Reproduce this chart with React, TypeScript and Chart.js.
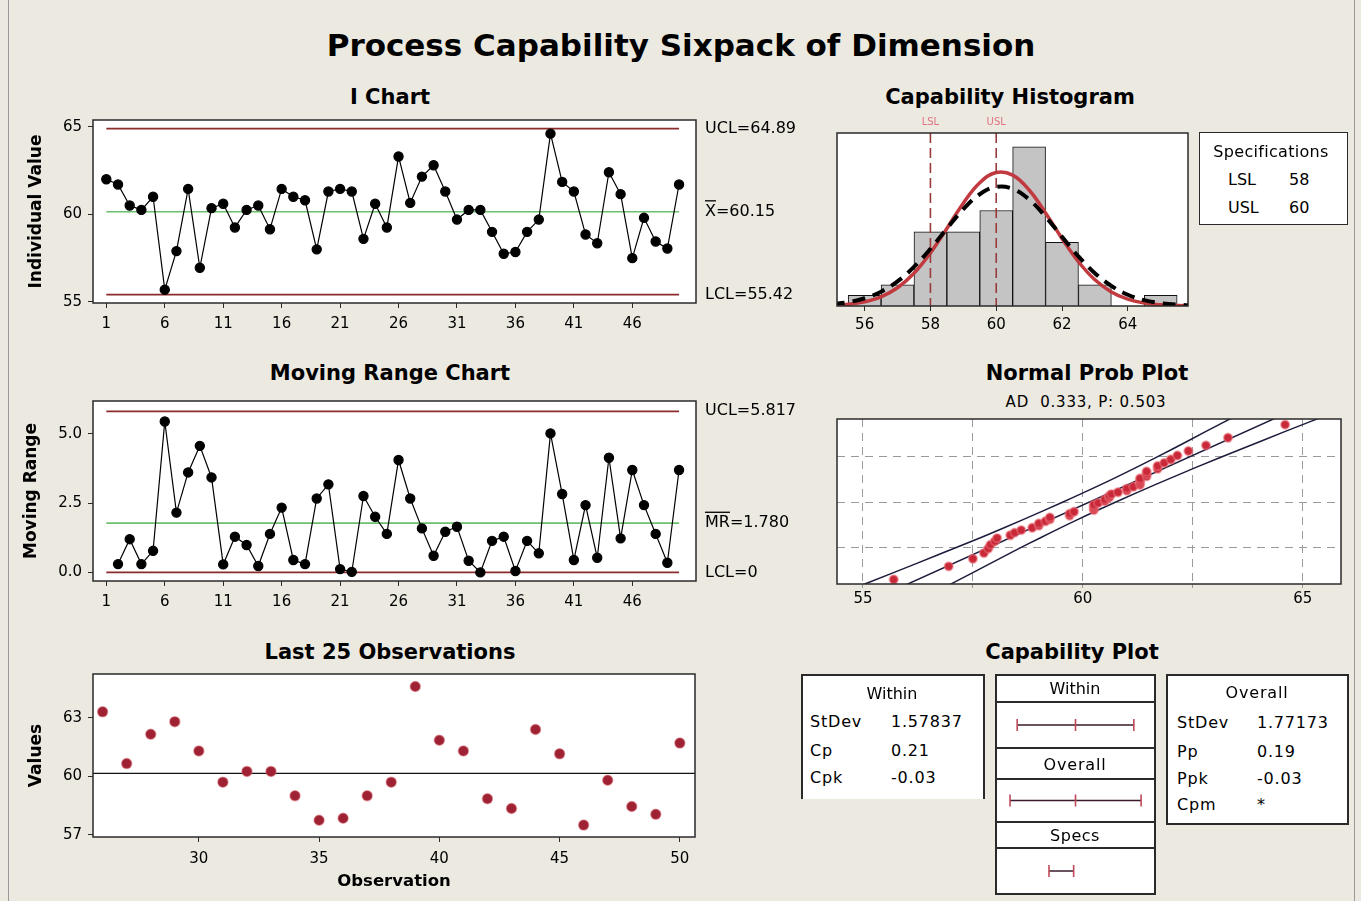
import React, { useEffect, useRef } from "react";
import { Chart, registerables } from "chart.js";

Chart.register(...registerables);
Chart.defaults.font.family = '"DejaVu Sans", sans-serif';
Chart.defaults.color = "#000";

// ---------------- data ----------------
const iValues = [
  62.0, 61.7, 60.5, 60.25, 61.0, 55.7, 57.9, 61.45, 56.95, 60.35,
  60.6, 59.25, 60.25, 60.5, 59.15, 61.45, 61.0, 60.8, 58.0, 61.3,
  61.45, 61.3, 58.6, 60.6, 59.25, 63.3, 60.65, 62.15, 62.8, 61.3,
  59.7, 60.25, 60.25, 59.0, 57.75, 57.85, 59.0, 59.7, 64.6, 61.85,
  61.3, 58.85, 58.35, 62.4, 61.15, 57.5, 59.8, 58.45, 58.05, 61.7,
];
const iUCL = 64.89;
const iCL = 60.15;
const iLCL = 55.42;
const iXTicks = [1, 6, 11, 16, 21, 26, 31, 36, 41, 46];
const iYTicks = [55, 60, 65];

// moving ranges for observations 2..50
const mrValues = [
  0.3, 1.2, 0.3, 0.78, 5.45, 2.16, 3.61, 4.57, 3.43, 0.29,
  1.29, 0.99, 0.23, 1.39, 2.34, 0.45, 0.3, 2.67, 3.18, 0.12,
  0.02, 2.76, 2.01, 1.39, 4.06, 2.67, 1.59, 0.6, 1.47, 1.65,
  0.42, 0.0, 1.14, 1.29, 0.05, 1.14, 0.69, 5.02, 2.83, 0.45,
  2.43, 0.53, 4.14, 1.23, 3.7, 2.43, 1.39, 0.35, 3.7,
];
const mrUCL = 5.817;
const mrCL = 1.78;
const mrLCL = 0;
const mrYTicks = [0, 2.5, 5];

const last25First = 26;
const last25XTicks = [30, 35, 40, 45, 50];
const last25YTicks = [57, 60, 63];

const histBins = [56, 57, 58, 59, 60, 61, 62, 63, 64, 65];
const histCounts = [1, 2, 7, 7, 9, 15, 6, 2, 0, 1];
const histXTicks = [56, 58, 60, 62, 64];
const lsl = 58;
const usl = 60;
const curveX = [55, 55.5, 56, 56.5, 57, 57.5, 58, 58.5, 59, 59.5, 60, 60.5, 61, 61.5, 62, 62.5, 63, 63.5, 64, 64.5, 65, 65.5, 66];
const withinCurve = [0.06, 0.16, 0.4, 0.87, 1.72, 3.08, 5.0, 7.31, 9.69, 11.61, 12.58, 12.33, 10.93, 8.77, 6.36, 4.17, 2.47, 1.33, 0.64, 0.28, 0.11, 0.04, 0.01];
const overallCurve = [0.17, 0.36, 0.73, 1.35, 2.32, 3.68, 5.39, 7.3, 9.12, 10.53, 11.22, 11.04, 10.04, 8.42, 6.53, 4.67, 3.09, 1.89, 1.06, 0.55, 0.27, 0.12, 0.05];

// normal scores (median ranks) for the 50 ordered observations
const probZ = [
  -2.2, -1.828, -1.611, -1.451, -1.321, -1.21, -1.113, -1.025, -0.944, -0.869,
  -0.799, -0.732, -0.668, -0.607, -0.548, -0.491, -0.436, -0.382, -0.329, -0.277,
  -0.226, -0.175, -0.125, -0.075, -0.025, 0.025, 0.075, 0.125, 0.175, 0.226,
  0.277, 0.329, 0.382, 0.436, 0.491, 0.548, 0.607, 0.668, 0.732, 0.799,
  0.869, 0.944, 1.025, 1.113, 1.21, 1.321, 1.451, 1.611, 1.828, 2.2,
];
const probGridZ = [-1.2816, 0, 1.2816];
const probXTicks = [55, 57.5, 60, 62.5, 65];
const fitZ = [-2.6, 2.6];
const fitX = [55.54, 64.76];
const bandZ = [-2.6, -2, -1.5, -1, -0.5, 0, 0.5, 1, 1.5, 2, 2.6];
const lowerBandX = [54.49, 55.71, 56.71, 57.7, 58.64, 59.55, 60.42, 61.24, 62.03, 62.79, 63.71];
const upperBandX = [56.59, 57.51, 58.27, 59.06, 59.88, 60.75, 61.66, 62.6, 63.59, 64.59, 65.81];

const withinSpread = [55.42, 60.15, 64.88];
const overallSpread = [54.84, 60.15, 65.47];
const specSpread = [58, 60];

const withinStats = [["StDev", "1.57837"], ["Cp", "0.21"], ["Cpk", "-0.03"]];
const overallStats = [["StDev", "1.77173"], ["Pp", "0.19"], ["Ppk", "-0.03"], ["Cpm", "*"]];

// ---------------- styles ----------------
const BG = "#ECE9E0";
const LIMIT_RED = "#8B2B2B";
const CL_GREEN = "#6DBE6D";
const FONT = '"DejaVu Sans", sans-serif';
const TICK_FONT = { size: 15 };

const framePlugin = {
  id: "frame",
  beforeDraw(chart: any) {
    const { ctx, chartArea: a } = chart;
    ctx.save();
    ctx.fillStyle = "#fff";
    ctx.fillRect(a.left, a.top, a.right - a.left, a.bottom - a.top);
    ctx.restore();
  },
  afterDraw(chart: any) {
    const { ctx, chartArea: a } = chart;
    ctx.save();
    ctx.strokeStyle = "#2a2a2a";
    ctx.lineWidth = 1.5;
    ctx.strokeRect(a.left, a.top, a.right - a.left, a.bottom - a.top);
    ctx.restore();
  },
};

function limitLabels(items: { value: number; text: string; bar?: string }[]) {
  return {
    id: "limitLabels",
    afterDraw(chart: any) {
      const { ctx, chartArea } = chart;
      const y = chart.scales.y;
      ctx.save();
      ctx.font = `16px ${FONT}`;
      ctx.fillStyle = "#000";
      ctx.textBaseline = "middle";
      ctx.textAlign = "left";
      items.forEach((it) => {
        const py = y.getPixelForValue(it.value);
        const px = chartArea.right + 9;
        ctx.fillText(it.text, px, py);
        if (it.bar) {
          const w = ctx.measureText(it.bar).width;
          ctx.fillRect(px, py - 11.5, w, 1.3);
        }
      });
      ctx.restore();
    },
  };
}

const specLinesPlugin = {
  id: "specLines",
  afterDatasetsDraw(chart: any) {
    const { ctx, chartArea: a } = chart;
    const x = chart.scales.x;
    ctx.save();
    [
      [lsl, "LSL"],
      [usl, "USL"],
    ].forEach(([v, label]) => {
      const px = x.getPixelForValue(v as number);
      ctx.strokeStyle = "#9A3A3A";
      ctx.lineWidth = 1.6;
      ctx.setLineDash([10, 5]);
      ctx.beginPath();
      ctx.moveTo(px, a.top);
      ctx.lineTo(px, a.bottom);
      ctx.stroke();
      ctx.setLineDash([]);
      ctx.fillStyle = "#E07480";
      ctx.font = `10px ${FONT}`;
      ctx.textAlign = "center";
      ctx.textBaseline = "middle";
      ctx.fillText(label as string, px, a.top - 11);
    });
    ctx.restore();
  },
};

// fix an axis box size and drop the label overhang padding so the plot area is exact
function fixSize(dim: "width" | "height", size: number) {
  return (s: any) => {
    s[dim] = size;
    s.paddingTop = 0;
    s.paddingBottom = 0;
    s.paddingLeft = 0;
    s.paddingRight = 0;
  };
}

function linAxis(min: number, max: number, ticks: number[], fit: (s: any) => void, extra: any = {}) {
  return {
    type: "linear",
    min,
    max,
    offset: false,
    afterBuildTicks: (s: any) => {
      s.ticks = ticks.map((v) => ({ value: v }));
    },
    afterFit: fit,
    grid: { drawOnChartArea: false, drawTicks: true, tickLength: 5, color: "#2a2a2a", offset: false },
    border: { display: false },
    ticks: { font: TICK_FONT, padding: 6, maxRotation: 0, autoSkip: false, color: "#000" },
    ...extra,
  };
}

const hline = (y: number, x0: number, x1: number) => [
  { x: x0, y },
  { x: x1, y },
];

const baseOpts = {
  animation: false,
  responsive: false,
  events: [],
  plugins: { legend: { display: false }, tooltip: { enabled: false } },
};

const yTitle = (text: string, top: number) => ({
  display: true,
  text,
  font: { size: 17, weight: "bold" },
  padding: { top, bottom: 0 },
  color: "#000",
});

const xTickOpts = (padding: number) => ({ font: TICK_FONT, padding, maxRotation: 0, autoSkip: false, color: "#000" });

// ---------------- chart configs ----------------
function iChartConfig() {
  return {
    type: "line",
    data: {
      datasets: [
        {
          data: iValues.map((v, i) => ({ x: i + 1, y: v })),
          borderColor: "#000",
          borderWidth: 1.2,
          pointRadius: 4.6,
          pointBackgroundColor: "#000",
          pointBorderColor: "#000",
        },
        { data: hline(iUCL, 1, 50), borderColor: LIMIT_RED, borderWidth: 1.6, pointRadius: 0 },
        { data: hline(iCL, 1, 50), borderColor: CL_GREEN, borderWidth: 1.6, pointRadius: 0 },
        { data: hline(iLCL, 1, 50), borderColor: LIMIT_RED, borderWidth: 1.6, pointRadius: 0 },
      ],
    },
    options: {
      ...baseOpts,
      layout: { padding: { top: 10, right: 114, left: 0, bottom: 0 } },
      scales: {
        x: linAxis(-0.14, 51.45, iXTicks, fixSize("height", 39), { ticks: xTickOpts(7) }),
        y: linAxis(54.94, 65.38, iYTicks, fixSize("width", 83), {
          title: yTitle("Individual Value", 16),
        }),
      },
    },
    plugins: [
      framePlugin,
      limitLabels([
        { value: iUCL, text: "UCL=64.89" },
        { value: iCL, text: "X=60.15", bar: "X" },
        { value: iLCL, text: "LCL=55.42" },
      ]),
    ],
  };
}

function mrChartConfig() {
  return {
    type: "line",
    data: {
      datasets: [
        {
          data: mrValues.map((v, i) => ({ x: i + 2, y: v })),
          borderColor: "#000",
          borderWidth: 1.2,
          pointRadius: 4.6,
          pointBackgroundColor: "#000",
          pointBorderColor: "#000",
        },
        { data: hline(mrUCL, 1, 50), borderColor: LIMIT_RED, borderWidth: 1.6, pointRadius: 0 },
        { data: hline(mrCL, 1, 50), borderColor: CL_GREEN, borderWidth: 1.6, pointRadius: 0 },
        { data: hline(mrLCL, 1, 50), borderColor: LIMIT_RED, borderWidth: 1.6, pointRadius: 0 },
      ],
    },
    options: {
      ...baseOpts,
      layout: { padding: { top: 10, right: 114, left: 0, bottom: 0 } },
      scales: {
        x: linAxis(-0.14, 51.45, iXTicks, fixSize("height", 40), { ticks: xTickOpts(7) }),
        y: linAxis(-0.31, 6.19, mrYTicks, fixSize("width", 83), {
          ticks: { font: TICK_FONT, padding: 6, color: "#000", callback: (v: any) => Number(v).toFixed(1) },
          title: yTitle("Moving Range", 11),
        }),
      },
    },
    plugins: [
      framePlugin,
      limitLabels([
        { value: mrUCL, text: "UCL=5.817" },
        { value: mrCL, text: "MR=1.780", bar: "MR" },
        { value: mrLCL, text: "LCL=0" },
      ]),
    ],
  };
}

function last25Config() {
  const pts = iValues.slice(last25First - 1).map((v, i) => ({ x: last25First + i, y: v }));
  return {
    type: "scatter",
    data: {
      datasets: [
        {
          data: pts,
          pointRadius: 5,
          pointBackgroundColor: "#9E2234",
          pointBorderColor: "rgba(200,80,90,0.45)",
          pointBorderWidth: 1.5,
        },
        { data: hline(iCL, 25.6, 50.63), showLine: true, borderColor: "#111", borderWidth: 1.4, pointRadius: 0 },
      ],
    },
    options: {
      ...baseOpts,
      layout: { padding: { top: 10, right: 115, left: 0, bottom: 0 } },
      scales: {
        x: linAxis(25.6, 50.63, last25XTicks, fixSize("height", 64), {
          ticks: xTickOpts(8),
          title: { display: true, text: "Observation", font: { size: 16.5, weight: "bold" }, padding: { top: 0, bottom: 9 }, color: "#000" },
        }),
        y: linAxis(56.89, 65.24, last25YTicks, fixSize("width", 83), {
          title: yTitle("Values", 16),
        }),
      },
    },
    plugins: [framePlugin],
  };
}

function histConfig() {
  return {
    type: "bar",
    data: {
      datasets: [
        {
          type: "line",
          data: curveX.map((x, i) => ({ x, y: overallCurve[i] })),
          borderColor: "#000",
          borderWidth: 4,
          borderDash: [13, 8],
          pointRadius: 0,
          tension: 0.4,
          order: 0,
        },
        {
          type: "line",
          data: curveX.map((x, i) => ({ x, y: withinCurve[i] })),
          borderColor: "#C03A40",
          borderWidth: 3.5,
          pointRadius: 0,
          tension: 0.4,
          order: 1,
        },
        {
          type: "bar",
          data: histBins.map((x, i) => ({ x, y: histCounts[i] })),
          backgroundColor: "#C4C4C4",
          borderColor: "#111",
          borderWidth: 1,
          barPercentage: 1,
          categoryPercentage: 1,
          order: 2,
        },
      ],
    },
    options: {
      ...baseOpts,
      layout: { padding: { top: 23, right: 12, left: 17, bottom: 0 } },
      scales: {
        x: linAxis(55.16, 65.83, histXTicks, fixSize("height", 36), { ticks: xTickOpts(5) }),
        y: { type: "linear", min: 0, max: 16.3, display: false },
      },
    },
    plugins: [framePlugin, specLinesPlugin],
  };
}

function probConfig() {
  const sorted = iValues.slice().sort((a, b) => a - b);
  const line = (xs: number[], zs: number[]) => xs.map((x, i) => ({ x, y: zs[i] }));
  return {
    type: "scatter",
    data: {
      datasets: [
        {
          data: sorted.map((v, i) => ({ x: v, y: probZ[i] })),
          pointRadius: 4.2,
          pointBackgroundColor: "#C82838",
          pointBorderColor: "rgba(235,110,120,0.5)",
          pointBorderWidth: 2,
        },
        { data: line(fitX, fitZ), showLine: true, borderColor: "#1C1C3C", borderWidth: 1.5, pointRadius: 0 },
        { data: line(lowerBandX, bandZ), showLine: true, borderColor: "#1C1C3C", borderWidth: 1.5, pointRadius: 0, tension: 0.3 },
        { data: line(upperBandX, bandZ), showLine: true, borderColor: "#1C1C3C", borderWidth: 1.5, pointRadius: 0, tension: 0.3 },
      ],
    },
    options: {
      ...baseOpts,
      layout: { padding: { top: 9, right: 19, left: 17, bottom: 0 } },
      scales: {
        x: {
          type: "linear",
          min: 54.41,
          max: 65.87,
          afterBuildTicks: (s: any) => {
            s.ticks = probXTicks.map((v) => ({ value: v }));
          },
          afterFit: fixSize("height", 26),
          grid: { drawOnChartArea: true, drawTicks: true, tickLength: 4, color: "#9A9A9A", lineWidth: 1 },
          border: { display: false, dash: [8, 6] },
          ticks: { font: TICK_FONT, padding: 2, maxRotation: 0, autoSkip: false, color: "#000", callback: (v: any) => (Number(v) % 5 === 0 ? String(v) : "") },
        },
        y: {
          type: "linear",
          min: -2.33,
          max: 2.36,
          afterBuildTicks: (s: any) => {
            s.ticks = probGridZ.map((v) => ({ value: v }));
          },
          afterFit: fixSize("width", 0),
          grid: { drawOnChartArea: true, drawTicks: false, color: "#9A9A9A", lineWidth: 1 },
          border: { display: false, dash: [8, 6] },
          ticks: { display: false },
        },
      },
    },
    plugins: [framePlugin],
  };
}

function spreadConfig(values: number[]) {
  return {
    type: "scatter",
    data: {
      datasets: [
        {
          data: values.map((x) => ({ x, y: 0 })),
          showLine: true,
          borderColor: "#3A1A2A",
          borderWidth: 1.5,
          pointStyle: "line",
          pointRotation: 90,
          pointRadius: 6,
          pointBorderColor: "#C04858",
          pointBorderWidth: 1.6,
        },
      ],
    },
    options: {
      ...baseOpts,
      layout: { padding: 0 },
      scales: {
        x: { type: "linear", min: 54.4, max: 65.9, display: false },
        y: { type: "linear", min: -1, max: 1, display: false },
      },
    },
  };
}

// ---------------- components ----------------
function ChartBox({ left, top, width, height, make }: { left: number; top: number; width: number; height: number; make: () => any }) {
  const ref = useRef<HTMLCanvasElement>(null);
  useEffect(() => {
    const chart = new Chart(ref.current as HTMLCanvasElement, make());
    return () => chart.destroy();
  }, []);
  return (
    <div style={{ position: "absolute", left, top, width, height }}>
      <canvas ref={ref} width={width} height={height} style={{ width, height, display: "block" }} />
    </div>
  );
}

function Txt({ x, y, children, size = 15, bold = false, align = "center", color = "#000", ls = 0 }: any) {
  const lh = Math.round(size * 1.25);
  return (
    <div
      style={{
        position: "absolute",
        left: align === "center" ? x - 400 : x,
        top: y - lh / 2,
        width: align === "center" ? 800 : undefined,
        textAlign: align,
        fontSize: size,
        fontWeight: bold ? "bold" : "normal",
        lineHeight: `${lh}px`,
        whiteSpace: "nowrap",
        color,
        letterSpacing: ls,
      }}
    >
      {children}
    </div>
  );
}

const boxBorder = "2px solid #2a2a2a";

export default function App() {
  const statRowsY1 = [722, 751, 778];
  const statRowsY2 = [723, 752, 779, 805];
  return (
    <div
      style={{
        position: "absolute",
        left: 0,
        top: 0,
        width: 1361,
        height: 901,
        background: BG,
        overflow: "hidden",
        fontFamily: FONT,
        color: "#000",
      }}
    >
      <div style={{ position: "absolute", left: 8, top: -2, width: 1345, height: 910, borderLeft: "1px solid #9a9a9a", borderRight: "1px solid #9a9a9a" }} />

      <Txt x={681} y={45} size={31} bold>
        Process Capability Sixpack of Dimension
      </Txt>

      <Txt x={390} y={97} size={21} bold>I Chart</Txt>
      <Txt x={1010} y={97} size={21} bold>Capability Histogram</Txt>
      <Txt x={390} y={373} size={21} bold>Moving Range Chart</Txt>
      <Txt x={1087} y={373} size={21} bold>Normal Prob Plot</Txt>
      <Txt x={1086} y={402} size={15} ls={0.8}>AD&nbsp;&nbsp;0.333, P: 0.503</Txt>
      <Txt x={390} y={652} size={21} bold>Last 25 Observations</Txt>
      <Txt x={1072} y={652} size={21} bold>Capability Plot</Txt>

      <ChartBox left={10} top={110} width={800} height={232} make={iChartConfig} />
      <ChartBox left={10} top={391} width={800} height={230} make={mrChartConfig} />
      <ChartBox left={10} top={664} width={800} height={237} make={last25Config} />
      <ChartBox left={820} top={110} width={380} height={232} make={histConfig} />
      <ChartBox left={820} top={410} width={540} height={200} make={probConfig} />

      {/* Specifications box */}
      <div style={{ position: "absolute", left: 1199, top: 132, width: 147, height: 91, background: "#fff", border: "1.5px solid #2a2a2a" }} />
      <Txt x={1271} y={152} size={16} ls={0.3}>Specifications</Txt>
      <Txt x={1228} y={180} size={16} align="left">LSL</Txt>
      <Txt x={1289} y={180} size={16} align="left">{String(lsl)}</Txt>
      <Txt x={1228} y={208} size={16} align="left">USL</Txt>
      <Txt x={1289} y={208} size={16} align="left">{String(usl)}</Txt>

      {/* Within stats box */}
      <div style={{ position: "absolute", left: 801, top: 674, width: 180, height: 123, background: "#fff", borderLeft: boxBorder, borderTop: boxBorder, borderRight: boxBorder }} />
      <Txt x={892} y={694} size={16}>Within</Txt>
      {withinStats.map(([k, v], i) => (
        <React.Fragment key={k}>
          <Txt x={810} y={statRowsY1[i]} size={16} align="left" ls={0.8}>{k}</Txt>
          <Txt x={891} y={statRowsY1[i]} size={16} align="left" ls={0.8}>{v}</Txt>
        </React.Fragment>
      ))}

      {/* middle capability box */}
      <div style={{ position: "absolute", left: 995, top: 674, width: 157, height: 217, background: "#fff", border: boxBorder }} />
      {[701, 747, 778, 821, 847].map((y) => (
        <div key={y} style={{ position: "absolute", left: 995, top: y, width: 161, height: 2, background: "#2a2a2a" }} />
      ))}
      <Txt x={1075} y={689} size={16}>Within</Txt>
      <Txt x={1075} y={765} size={16} ls={0.8}>Overall</Txt>
      <Txt x={1075} y={836} size={16} ls={0.5}>Specs</Txt>
      <ChartBox left={997} top={703} width={157} height={44} make={() => spreadConfig(withinSpread)} />
      <ChartBox left={997} top={780} width={157} height={41} make={() => spreadConfig(overallSpread)} />
      <ChartBox left={997} top={849} width={157} height={44} make={() => spreadConfig(specSpread)} />

      {/* Overall stats box */}
      <div style={{ position: "absolute", left: 1166, top: 674, width: 179, height: 147, background: "#fff", border: boxBorder }} />
      <Txt x={1257} y={693} size={16} ls={0.8}>Overall</Txt>
      {overallStats.map(([k, v], i) => (
        <React.Fragment key={k}>
          <Txt x={1177} y={statRowsY2[i]} size={16} align="left" ls={0.8}>{k}</Txt>
          <Txt x={1257} y={statRowsY2[i]} size={16} align="left" ls={0.8}>{v}</Txt>
        </React.Fragment>
      ))}
    </div>
  );
}
